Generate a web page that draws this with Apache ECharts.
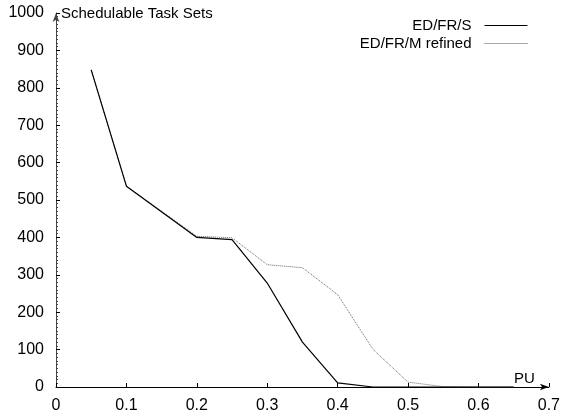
<!DOCTYPE html>
<html>
<head>
<meta charset="utf-8">
<script src="https://cdn.jsdelivr.net/npm/echarts@6/dist/echarts.min.js"></script>
<style>
  html, body { margin: 0; padding: 0; background: #fff; }
  #chart { width: 563px; height: 414px; }
</style>
</head>
<body>
<div id="chart"></div>
<script>
// PU values and schedulable task set counts
var puValues = [0.05, 0.1, 0.2, 0.25, 0.3, 0.35, 0.4, 0.45, 0.5, 0.55, 0.6, 0.65];
var edfrS = [848, 537, 400, 394, 278, 120, 11, 0, 0, 0, 0, 0];
var edfrMRefined = [848, 537, 403, 399, 327, 319, 247, 101, 13, 1, 0, 0];
var xTicks = [0, 0.1, 0.2, 0.3, 0.4, 0.5, 0.6, 0.7];

function pairs (ys) {
  return puValues.map(function (x, i) { return [x, ys[i]]; });
}

var font = 'Liberation Sans';
var chart = echarts.init(document.getElementById('chart'));

function legendAt (name, top, lineType, color) {
  return {
    data: [name],
    right: 30, top: top,
    align: 'right',
    itemWidth: 43, itemHeight: 12,
    itemGap: 0,
    itemStyle: { opacity: 0 },
    lineStyle: { width: 1, type: lineType, color: color },
    textStyle: { fontFamily: font, fontSize: 15, color: '#000', padding: [0, 8, 0, 0] }
  };
}

var option = {
  backgroundColor: '#fff',
  animation: false,
  textStyle: { fontFamily: font },
  grid: { left: 56, right: 14, top: 13, bottom: 27 },
  legend: [
    legendAt('ED/FR/S', 13, 'solid', '#000'),
    legendAt('ED/FR/M refined', 31, [1, 1], '#555')
  ],
  xAxis: {
    type: 'value',
    min: 0, max: 0.7, interval: 0.1,
    name: 'PU',
    nameLocation: 'end',
    nameGap: -14,
    nameTextStyle: { fontFamily: font, fontSize: 15, color: '#000', align: 'right', verticalAlign: 'bottom', padding: [0, 0, 1, 0] },
    axisLine: { lineStyle: { color: '#000', width: 1 }, symbol: ['none', 'arrow'], symbolSize: [5, 9] },
    axisTick: { inside: true, length: 4, lineStyle: { color: '#000' } },
    splitLine: { show: false },
    axisLabel: {
      fontFamily: font, fontSize: 16, color: '#000', margin: 11,
      formatter: function (v) { var t = xTicks.filter(function (k) { return Math.abs(k - v) < 1e-6; }); return t.length ? String(t[0]) : ''; }
    }
  },
  yAxis: {
    type: 'value',
    min: 0, max: 1000, interval: 100,
    name: 'Schedulable Task Sets',
    nameLocation: 'end',
    nameGap: -1,
    nameTextStyle: { fontFamily: font, fontSize: 15, color: '#000', align: 'left', verticalAlign: 'middle', padding: [0, 0, 0, 5] },
    axisLine: { show: true, lineStyle: { color: '#444', width: 1 }, symbol: ['none', 'arrow'], symbolSize: [5, 9] },
    axisTick: { inside: true, length: 4, lineStyle: { color: '#000' } },
    minorTick: { show: true, splitNumber: 10, length: 2, lineStyle: { color: '#444' } },
    splitLine: { show: false },
    axisLabel: { fontFamily: font, fontSize: 16, color: '#000', margin: 12, formatter: function (v) { return String(v); } }
  },
  series: [
    {
      name: 'ED/FR/S',
      type: 'line',
      data: pairs(edfrS),
      symbol: 'none',
      itemStyle: { color: '#000' },
      lineStyle: { color: '#000', width: 1.2, type: 'solid' },
      z: 3
    },
    {
      name: 'ED/FR/M refined',
      type: 'line',
      data: pairs(edfrMRefined),
      symbol: 'none',
      itemStyle: { color: '#666' },
      lineStyle: { color: '#666', width: 1, type: [1, 1] },
      z: 2
    }
  ]
};

chart.setOption(option);
</script>
</body>
</html>
